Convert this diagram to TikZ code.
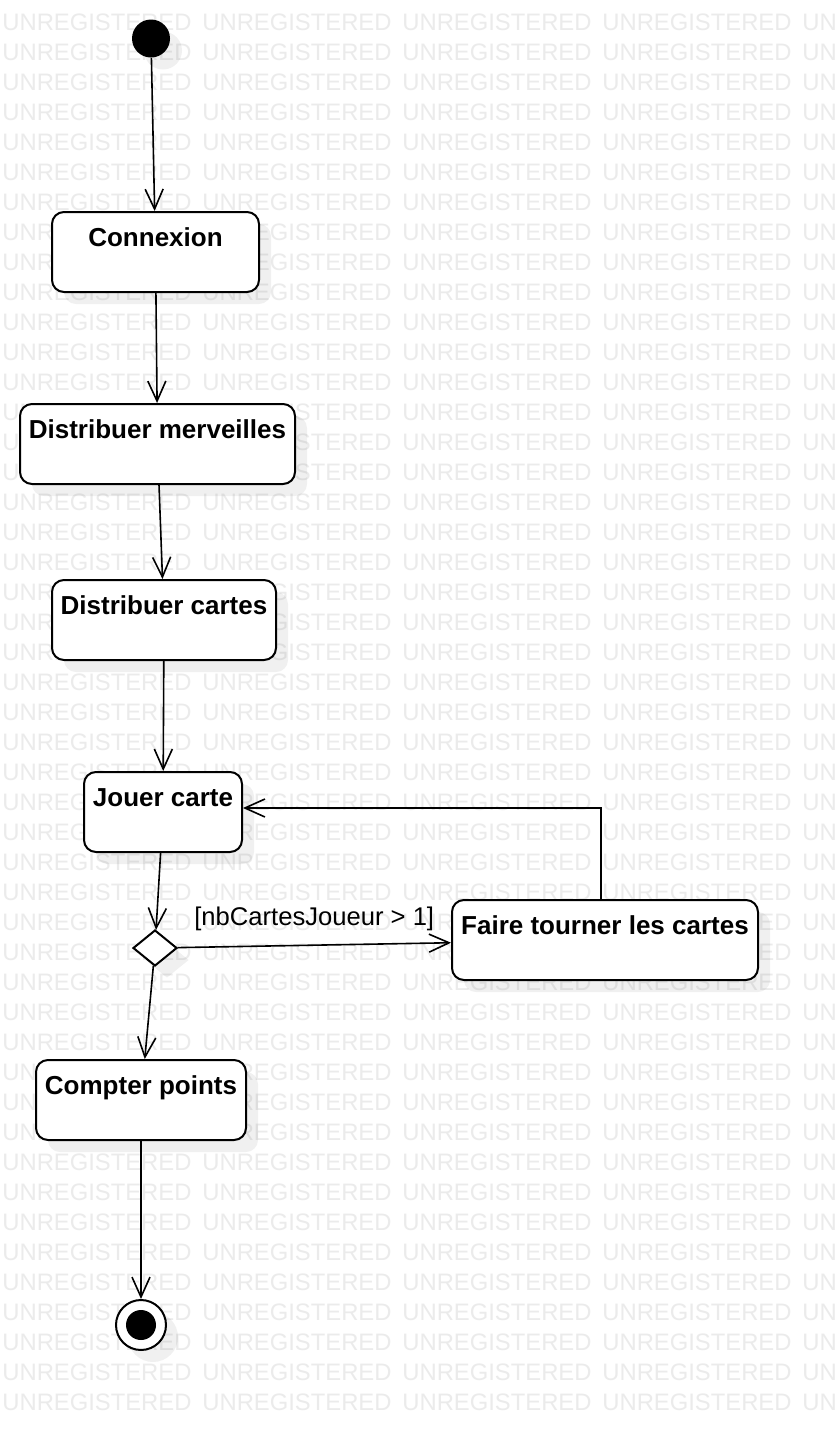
\documentclass[tikz,border=0pt]{standalone}
\usepackage{fontspec}
\setmainfont{Liberation Sans}
\usetikzlibrary{positioning, shapes.geometric, arrows.meta, shadows}
\definecolor{WaterGray}{RGB}{235,235,235}

\begin{document}
\begin{tikzpicture}[x=0.5pt,y=-0.5pt,
    softshadow/.style={drop shadow={shadow xshift=6pt,shadow yshift=-6pt,fill=black,opacity=.06}},
    actbox/.style={draw,line width=1pt,rounded corners=6pt,fill=white,inner sep=0pt,text height=17pt,text depth=23pt,font=\fontsize{13}{15}\selectfont\bfseries,softshadow},
    startdot/.style={circle,fill=black,minimum size=19pt,inner sep=0pt,softshadow},
    choice/.style={diamond,draw,line width=1pt,fill=white,minimum width=22pt,minimum height=18pt,inner sep=0pt,softshadow},
    enddot/.style={circle,draw,line width=1pt,fill=white,minimum size=25pt,inner sep=0pt,softshadow,path picture={\fill[black] (path picture bounding box.center) circle (7.5pt);}},
    flow/.style={-{Straight Barb[length=10pt,width=9pt]},line width=0.8pt}]
  \useasboundingbox (0,0) rectangle (836,1430);
  \fill[white] (0,0) rectangle (836,1430);
  % watermark
  \begin{scope}
    \clip (0,0) rectangle (836,1430);
    \foreach \r in {0,...,46}
      \foreach \c in {0,...,4}
        \node[anchor=base west,inner sep=0pt,text=WaterGray,font=\fontsize{11.9}{12}\selectfont] (wm-\r-\c) at (2+200*\c,30+30*\r) {UNREGISTERED};
  \end{scope}
  % states
  \node[startdot] (debut) at (151,38.5) {};
  \node[actbox,minimum width=103.5pt] (connexion) at (155.5,252) {Connexion};
  \node[actbox,minimum width=137.5pt] (merveilles) at (157.5,444) {Distribuer merveilles};
  \node[actbox,minimum width=112pt] (cartes) at (164,620) {Distribuer cartes};
  \node[actbox,minimum width=79pt] (jouer) at (163,812) {Jouer carte};
  \node[choice] (choix) at (155,948) {};
  \node[actbox,minimum width=153pt] (tourner) at (605,940) {Faire tourner les cartes};
  \node[actbox,minimum width=105pt] (compter) at (141,1100) {Compter points};
  \node[enddot] (fin) at (141,1325) {};
  % transitions
  \draw[flow] (debut) -- (connexion);
  \draw[flow] (connexion) -- (merveilles);
  \draw[flow] (merveilles) -- (cartes);
  \draw[flow] (cartes) -- (jouer);
  \draw[flow] (jouer) -- (choix);
  \draw[flow] (choix) -- node[above=3.5pt,font=\fontsize{12.8}{15}\selectfont] (garde) {[nbCartesJoueur > 1]} (tourner);
  \draw[flow] ([xshift=-2pt]tourner.north) |- ([yshift=2pt]jouer.east);
  \draw[flow] (choix) -- (compter);
  \draw[flow] (compter) -- (fin);
\end{tikzpicture}
\end{document}
